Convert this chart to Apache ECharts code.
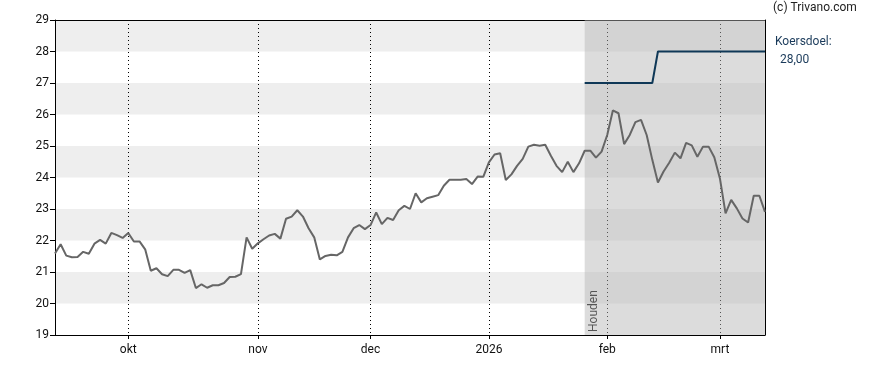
<!DOCTYPE html>
<html>
<head>
<meta charset="utf-8">
<script src="https://cdn.jsdelivr.net/npm/echarts@6/dist/echarts.min.js"></script>
<style>
html,body{margin:0;padding:0;background:#fff;}
#chart{width:888px;height:370px;}
</style>
</head>
<body>
<div id="chart"></div>
<script>
// Trading days (categories)
const dates = [
 '2025-09-12','2025-09-15','2025-09-16','2025-09-17','2025-09-18','2025-09-19','2025-09-22','2025-09-23','2025-09-24','2025-09-25','2025-09-26','2025-09-29','2025-09-30',
 '2025-10-01','2025-10-02','2025-10-03','2025-10-06','2025-10-07','2025-10-08','2025-10-09','2025-10-10','2025-10-13','2025-10-14','2025-10-15','2025-10-16','2025-10-17','2025-10-20','2025-10-21','2025-10-22','2025-10-23','2025-10-24','2025-10-27','2025-10-28','2025-10-29','2025-10-30','2025-10-31',
 '2025-11-03','2025-11-04','2025-11-05','2025-11-06','2025-11-07','2025-11-10','2025-11-11','2025-11-12','2025-11-13','2025-11-14','2025-11-17','2025-11-18','2025-11-19','2025-11-20','2025-11-21','2025-11-24','2025-11-25','2025-11-26','2025-11-27','2025-11-28',
 '2025-12-01','2025-12-02','2025-12-03','2025-12-04','2025-12-05','2025-12-08','2025-12-09','2025-12-10','2025-12-11','2025-12-12','2025-12-15','2025-12-16','2025-12-17','2025-12-18','2025-12-19','2025-12-22','2025-12-23','2025-12-24','2025-12-29','2025-12-30','2025-12-31',
 '2026-01-02','2026-01-05','2026-01-06','2026-01-07','2026-01-08','2026-01-09','2026-01-12','2026-01-13','2026-01-14','2026-01-15','2026-01-16','2026-01-19','2026-01-20','2026-01-21','2026-01-22','2026-01-23','2026-01-26','2026-01-27','2026-01-28','2026-01-29','2026-01-30',
 '2026-02-02','2026-02-03','2026-02-04','2026-02-05','2026-02-06','2026-02-09','2026-02-10','2026-02-11','2026-02-12','2026-02-13','2026-02-16','2026-02-17','2026-02-18','2026-02-19','2026-02-20','2026-02-23','2026-02-24','2026-02-25','2026-02-26','2026-02-27',
 '2026-03-02','2026-03-03','2026-03-04','2026-03-05','2026-03-06','2026-03-09','2026-03-10','2026-03-11','2026-03-12'
];

// Closing prices
const prices = [
 21.59,21.88,21.52,21.47,21.48,21.64,21.58,21.90,22.02,21.90,22.24,22.17,22.08,
 22.24,21.97,21.97,21.72,21.04,21.12,20.93,20.87,21.07,21.07,20.97,21.06,20.49,20.61,20.50,20.58,20.58,20.65,20.84,20.85,20.93,22.10,21.74,
 21.91,22.04,22.16,22.21,22.06,22.69,22.76,22.96,22.76,22.39,22.10,21.40,21.51,21.55,21.53,21.64,22.10,22.39,22.49,22.36,
 22.49,22.89,22.52,22.72,22.65,22.96,23.10,23.00,23.50,23.21,23.34,23.39,23.44,23.74,23.93,23.93,23.93,23.95,23.79,24.03,24.02,
 24.48,24.73,24.77,23.92,24.10,24.37,24.59,24.98,25.04,25.01,25.04,24.69,24.37,24.17,24.50,24.17,24.45,24.85,24.85,24.63,24.82,
 25.35,26.13,26.04,25.06,25.35,25.76,25.83,25.35,24.56,23.84,24.19,24.47,24.79,24.61,25.10,25.02,24.66,24.98,24.98,24.64,
 23.97,22.86,23.29,23.02,22.70,22.57,23.42,23.42,22.91
];

// Koersdoel (price target) steps
const targetDates = ['2026-01-27','2026-02-12','2026-02-13','2026-03-12'];
const targetValues = [27, 27, 28, 28];

// Advice zone
const adviceStart = '2026-01-27';
const adviceEnd = '2026-03-12';
const adviceLabel = 'Houden';

// Month tick labels
const monthTicks = {
 '2025-10-01':'okt','2025-11-03':'nov','2025-12-01':'dec',
 '2026-01-02':'2026','2026-02-02':'feb','2026-03-02':'mrt'
};

const yMin = 19, yMax = 29, yStep = 1;

const isMonth = (idx, val) => Object.prototype.hasOwnProperty.call(monthTicks, val);

const chart = echarts.init(document.getElementById('chart'), null, {renderer:'canvas'});
const FONT = 'Roboto, "Liberation Sans", Arial, sans-serif';

chart.setOption({
  animation:false,
  grid:{left:55, right:123, top:20, bottom:35},
  xAxis:[{
    type:'category',
    data:dates,
    boundaryGap:false,
    axisLine:{show:true, lineStyle:{color:'#000', width:1}},
    axisTick:{show:true, interval:isMonth, length:4, lineStyle:{color:'#000'}},
    axisLabel:{interval:isMonth, formatter:(v)=>monthTicks[v]||'', color:'#111', fontSize:12, fontFamily:FONT, margin:9},
    splitLine:{show:true, interval:isMonth, lineStyle:{color:'#000', type:[1,3], width:1}}
  },{
    type:'category',
    data:dates,
    boundaryGap:false,
    position:'top',
    axisLine:{show:true, lineStyle:{color:'#000', width:1}},
    axisTick:{show:false}, axisLabel:{show:false}, splitLine:{show:false}
  }],
  yAxis:[{
    type:'value',
    min:yMin, max:yMax, interval:yStep,
    axisLine:{show:true, lineStyle:{color:'#000', width:1}},
    axisTick:{show:true, length:5, lineStyle:{color:'#000'}},
    axisLabel:{color:'#111', fontSize:12, fontFamily:FONT, margin:6},
    splitLine:{show:false},
    splitArea:{show:true, areaStyle:{color:['#ffffff','#eeeeee']}}
  },{
    type:'value',
    min:yMin, max:yMax, interval:yStep,
    position:'right',
    axisLine:{show:true, lineStyle:{color:'#000', width:1}},
    axisTick:{show:false}, axisLabel:{show:false}, splitLine:{show:false}
  }],
  series:[{
    name:'Koers',
    type:'line',
    data:prices,
    showSymbol:false,
    symbol:'none',
    lineStyle:{color:'#666666', width:2},
    itemStyle:{color:'#666666'},
    z:3,
    markArea:{
      silent:true,
      itemStyle:{color:'rgba(181,181,181,0.47)'},
      data:[[{xAxis:adviceStart},{xAxis:adviceEnd}]]
    }
  },{
    name:'Koersdoel',
    type:'line',
    data:targetDates.map((d,i)=>[d,targetValues[i]]),
    showSymbol:false,
    symbol:'none',
    lineStyle:{color:'#0f3857', width:2},
    itemStyle:{color:'#0f3857'},
    z:4
  }]
});

// Annotations
const zonePt = chart.convertToPixel({xAxisIndex:0, yAxisIndex:0}, [adviceStart, yMin]);
chart.setOption({
  graphic:[
    {type:'text', left:773, top:2, style:{text:'(c) Trivano.com', fill:'#222', font:'12px '+FONT}},
    {type:'text', left:775, top:36, style:{text:'Koersdoel:', fill:'#1a3a5a', font:'12px '+FONT}},
    {type:'text', left:777, top:54, style:{text:' '+targetValues[targetValues.length-1].toFixed(2).replace('.',','), fill:'#1a3a5a', font:'12px '+FONT}},
    {type:'text', x:zonePt[0]+3, y:zonePt[1]-3, rotation:Math.PI/2, style:{text:adviceLabel, fill:'#000', font:'12px '+FONT, align:'left', verticalAlign:'top'}}
  ]
});
</script>
</body>
</html>
